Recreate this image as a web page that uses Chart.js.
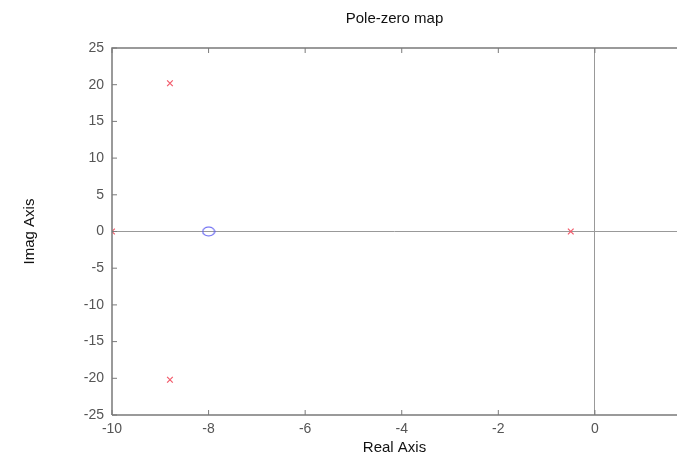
<!DOCTYPE html>
<html>
<head>
<meta charset="utf-8">
<script src="https://cdn.jsdelivr.net/npm/chart.js@4"></script>
<style>
  html, body { margin: 0; padding: 0; background: #fff; }
  #wrap { width: 677px; height: 461px; }
</style>
</head>
<body>
<div id="wrap"><canvas id="pz"></canvas></div>
<script>
// Полюса и нули
const poleRe = [-8.8, -8.8, -10, -0.5];
const poleIm = [20.2, -20.2, 0, 0];
const zeroRe = [-8];
const zeroIm = [0];
const xTickValues = [-10, -8, -6, -4, -2, 0];
const yTickValues = [-25, -20, -15, -10, -5, 0, 5, 10, 15, 20, 25];

const toPoints = (re, im) => re.map((r, i) => ({ x: r, y: im[i] }));

// Маркер нуля - эллипс
const zeroMark = document.createElement('canvas');
zeroMark.width = 14; zeroMark.height = 11;
(() => {
    const c = zeroMark.getContext('2d');
    c.strokeStyle = '#5a5af0';
    c.lineWidth = 1.1;
    c.beginPath();
    c.ellipse(7, 5.5, 6, 4.5, 0, 0, Math.PI * 2);
    c.stroke();
})();

// Рамка и внутренние риски
const framePlugin = {
    id: 'frame',
    afterDraw(chart) {
        const { ctx, chartArea: a, scales } = chart;
        ctx.save();
        ctx.strokeStyle = '#7a7a7a';
        ctx.lineWidth = 1.5;
        ctx.beginPath();
        ctx.moveTo(a.left, a.bottom); ctx.lineTo(a.left, a.top); ctx.lineTo(a.right, a.top);
        ctx.moveTo(a.left, a.bottom); ctx.lineTo(a.right, a.bottom);
        ctx.stroke();
        ctx.lineWidth = 1;
        ctx.beginPath();
        xTickValues.forEach(v => {
            const px = scales.x.getPixelForValue(v);
            ctx.moveTo(px, a.bottom); ctx.lineTo(px, a.bottom - 5);
            ctx.moveTo(px, a.top); ctx.lineTo(px, a.top + 5);
        });
        yTickValues.forEach(v => {
            const py = scales.y.getPixelForValue(v);
            ctx.moveTo(a.left, py); ctx.lineTo(a.left + 5, py);
        });
        ctx.stroke();
        ctx.restore();
    }
};

const font = size => ({ family: 'Liberation Sans, Arial', size: size, weight: 'normal' });

new Chart(document.getElementById('pz'), {
    type: 'scatter',
    data: {
        datasets: [
            {
                label: 'Poles',
                data: toPoints(poleRe, poleIm),
                pointStyle: 'crossRot',
                radius: 4,
                borderColor: '#f25a6a',
                borderWidth: 1.2
            },
            {
                label: 'Zeros',
                data: toPoints(zeroRe, zeroIm),
                pointStyle: zeroMark,
                borderColor: '#5a5af0'
            }
        ]
    },
    options: {
        responsive: true,
        maintainAspectRatio: false,
        animation: false,
        layout: { autoPadding: false, padding: { left: 21, top: 0, right: 0, bottom: 0 } },
        plugins: {
            legend: { display: false },
            tooltip: { enabled: false },
            title: {
                display: true,
                fullSize: false,
                text: 'Pole-zero map',
                color: '#111',
                font: font(15),
                padding: { top: 10, bottom: 20 }
            }
        },
        scales: {
            x: {
                type: 'linear',
                min: -10,
                max: 1.7,
                afterBuildTicks: s => { s.ticks = xTickValues.map(v => ({ value: v })); },
                afterFit: s => { s.height = 46; s.paddingLeft = 0; s.paddingRight = 0; },
                grid: {
                    drawTicks: false,
                    color: c => (c.tick && c.tick.value === 0 ? '#999' : 'transparent')
                },
                border: { display: false },
                ticks: {
                    padding: 6,
                    color: '#555',
                    font: font(14)
                },
                title: {
                    display: true,
                    text: 'Real Axis',
                    color: '#111',
                    font: font(15),
                    padding: { top: 4, bottom: 4 }
                }
            },
            y: {
                type: 'linear',
                min: -25,
                max: 25,
                afterBuildTicks: s => { s.ticks = yTickValues.map(v => ({ value: v })); },
                afterFit: s => { s.width = 91; s.paddingTop = 0; s.paddingBottom = 0; },
                grid: {
                    drawTicks: false,
                    color: c => (c.tick && c.tick.value === 0 ? '#999' : 'transparent')
                },
                border: { display: false },
                ticks: {
                    padding: 8,
                    color: '#555',
                    font: font(14)
                },
                title: {
                    display: true,
                    text: 'Imag Axis',
                    color: '#111',
                    font: font(15),
                    padding: { top: 0, bottom: 0 }
                }
            }
        }
    },
    plugins: [framePlugin]
});
</script>
</body>
</html>
